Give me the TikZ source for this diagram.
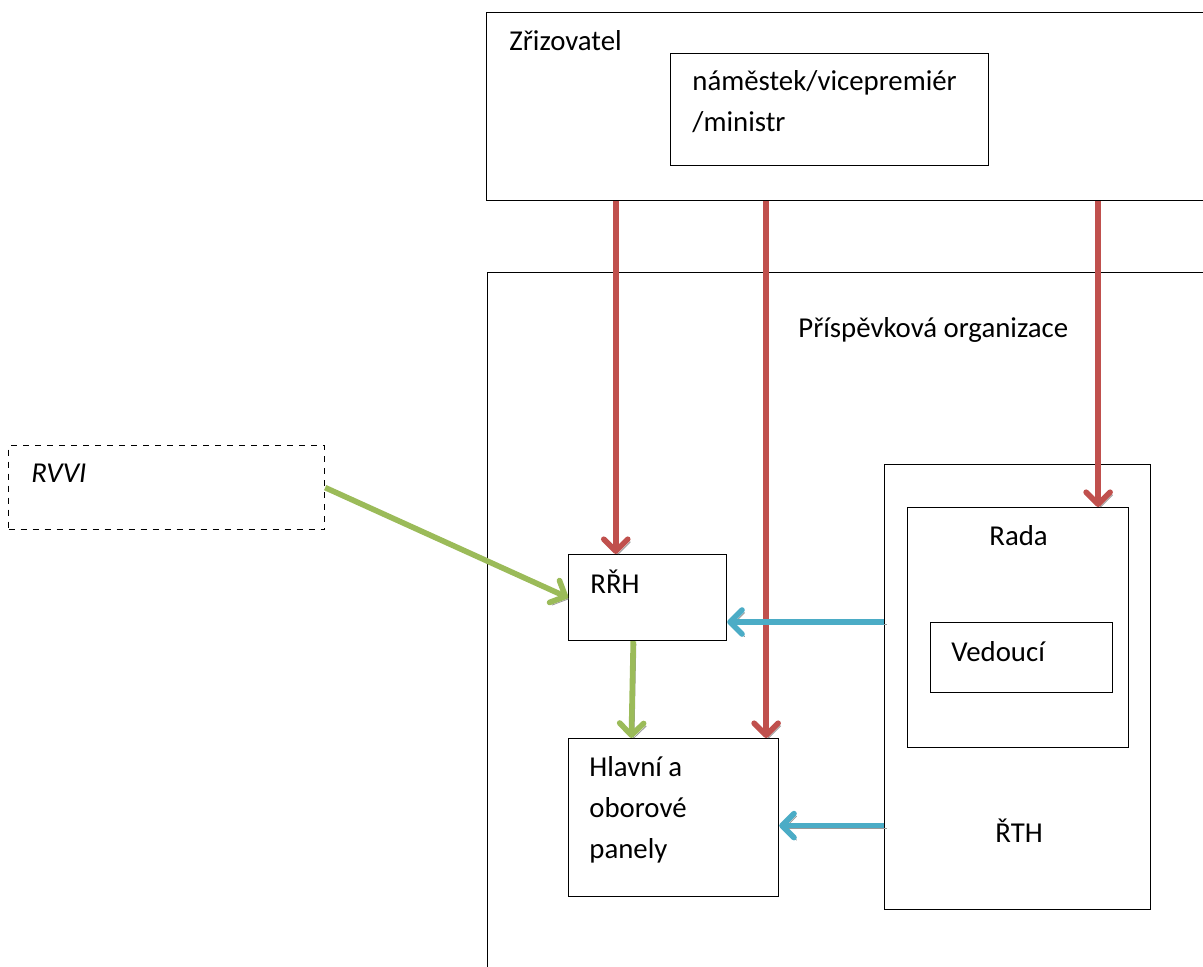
\documentclass[tikz,border=0pt]{standalone}
\usepackage{fontspec}
\setmainfont{Carlito}
\usetikzlibrary{arrows.meta,calc,positioning}
\definecolor{linkred}{HTML}{C0504D}
\definecolor{linkgreen}{HTML}{9BBB59}
\definecolor{linkblue}{HTML}{4BACC6}

\begin{document}
\begin{tikzpicture}[x=0.5pt, y=-0.5pt,
    box/.style={draw, line width=0.6pt, inner sep=0pt, anchor=north west},
    txt/.style={anchor=base west, inner sep=0pt, align=left,
        font=\fontsize{14.4}{20.5}\selectfont},
    link/.style={line width=2.8pt, -{Straight Barb[length=6pt,width=12pt,round]},
        preaction={draw=black!40, transform canvas={shift={(1.3pt,-1.3pt)}}}},
    redlink/.style={link, draw=linkred},
    greenlink/.style={link, draw=linkgreen},
    bluelink/.style={link, draw=linkblue}]

    \useasboundingbox (0,0) rectangle (1203,966);
    \clip (0,0) rectangle (1203,966);

    % boxes
    \node[box, minimum width=365pt, minimum height=94pt] (zriz) at (486,12) {};
    \node[box, minimum width=159pt, minimum height=56pt] (nam) at (670,53) {};
    \node[box, minimum width=365pt, minimum height=360pt] (po) at (487,272) {};
    \node[box, dashed, minimum width=158pt, minimum height=42pt] (rvvi) at (8,445) {};
    \node[box, minimum width=79pt, minimum height=43pt] (rrh) at (568,554) {};
    \node[box, minimum width=105pt, minimum height=79pt] (panely) at (568,738) {};
    \node[box, minimum width=133pt, minimum height=222.5pt] (rth) at (884,464) {};
    \node[box, minimum width=110.5pt, minimum height=120pt] (rada) at (907,507) {};
    \node[box, minimum width=91pt, minimum height=35pt] (ved) at (930,622) {};

    % texts (multi-line ones sit on their last line)
    \node[txt] (zriztxt) at ([shift={(23,38)}]zriz.north west) {Zřizovatel};
    \node[txt] (namtxt) at ([shift={(22,78)}]nam.north west) {náměstek/vicepremiér\\/ministr};
    \node[txt] (potxt) at ([shift={(311,65)}]po.north west) {Příspěvková organizace};
    \node[txt, font=\fontsize{14.4}{20.5}\selectfont\itshape] (rvvitxt) at ([shift={(23,37)}]rvvi.north west) {RVVI};
    \node[txt] (rrhtxt) at ([shift={(22,39)}]rrh.north west) {RŘH};
    \node[txt] (panelytxt) at ([shift={(21,120)}]panely.north west) {Hlavní a\\oborové\\panely};
    \node[txt] (rthtxt) at ([shift={(111,378)}]rth.north west) {ŘTH};
    \node[txt] (radatxt) at ([shift={(82,38)}]rada.north west) {Rada};
    \node[txt] (vedtxt) at ([shift={(21,39)}]ved.north west) {Vedoucí};

    % connectors
    \coordinate (r1) at ($(rrh.north west)!0.3!(rrh.north east)$);
    \coordinate (r2) at ($(panely.north west)!0.938!(panely.north east)$);
    \coordinate (r3) at ($(rada.north west)!0.86!(rada.north east)$);
    \draw[redlink] (zriz.south -| r1) -- (r1);
    \draw[redlink] (zriz.south -| r2) -- (r2);
    \draw[redlink] (zriz.south -| r3) -- (r3);

    \coordinate (g1) at ($(rrh.south west)!0.41!(rrh.south east)$);
    \coordinate (g2) at ($(panely.north west)!0.3!(panely.north east)$);
    \draw[greenlink] (rvvi.east) -- (rrh.west);
    \draw[greenlink] (g1) -- (g2);

    \coordinate (b1) at ($(rrh.north east)!0.78!(rrh.south east)$);
    \coordinate (b2) at ($(panely.north east)!0.55!(panely.south east)$);
    \draw[bluelink] (rth.west |- b1) -- (b1);
    \draw[bluelink] (rth.west |- b2) -- (b2);

\end{tikzpicture}
\end{document}
